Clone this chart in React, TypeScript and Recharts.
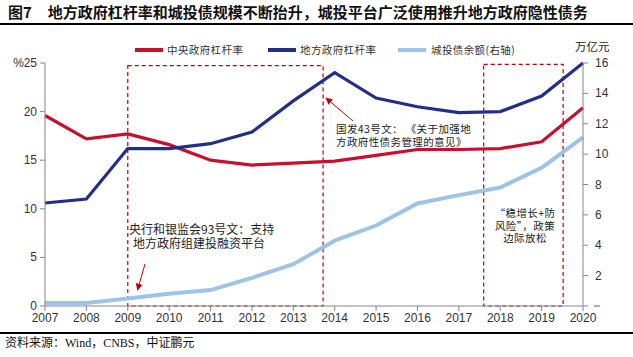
import React from "react";
import {
  ComposedChart,
  Line,
  XAxis,
  YAxis,
  ReferenceArea,
} from "recharts";

const years = [2007, 2008, 2009, 2010, 2011, 2012, 2013, 2014, 2015, 2016, 2017, 2018, 2019, 2020];
const centralLeverage = [19.6, 17.2, 17.7, 16.6, 15.0, 14.5, 14.7, 14.9, 15.5, 16.1, 16.1, 16.2, 16.9, 20.4];
const localLeverage = [10.6, 11.0, 16.2, 16.2, 16.7, 17.9, 21.1, 24.0, 21.4, 20.5, 19.9, 20.0, 21.6, 25.0];
const chengtouBonds = [0.2, 0.2, 0.5, 0.8, 1.05, 1.85, 2.75, 4.3, 5.3, 6.75, 7.3, 7.8, 9.1, 11.1];

const leftTicks = [0, 5, 10, 15, 20, 25];
const rightTicks = [0, 2, 4, 6, 8, 10, 12, 14, 16];

const seriesNames = ["中央政府杠杆率", "地方政府杠杆率", "城投债余额(右轴)"];
const colors = ["#C8102E", "#232F86", "#9DC3E6"];

const data = years.map((y, i) => ({
  year: y,
  central: centralLeverage[i],
  local: localLeverage[i],
  bonds: chengtouBonds[i],
}));

const tickFont = "'Liberation Sans', Arial, sans-serif";
const cjk = "'Noto Sans CJK SC', sans-serif";

const LeftTick = (props: any) => {
  const { x, y, payload } = props;
  if (payload.value === 25) {
    return (
      <g>
        <text x={x - 13} y={y} dy={4} textAnchor="end" fontSize={12} fill="#333" fontFamily={tickFont}>%</text>
        <text x={x} y={y} dy={4} textAnchor="end" fontSize={12} fill="#333" fontFamily={tickFont}>25</text>
      </g>
    );
  }
  return (
    <text x={x} y={y} dy={4} textAnchor="end" fontSize={12} fill="#333" fontFamily={tickFont}>
      {payload.value}
    </text>
  );
};

const RightTick = (props: any) => {
  const { x, y, payload } = props;
  if (payload.value === 0) {
    return <rect x={x - 1} y={y - 1} width={6} height={2} fill="#b0b0b0" />;
  }
  return (
    <text x={x} y={y} dy={4} textAnchor="start" fontSize={12} fill="#333" fontFamily={tickFont}>
      {payload.value}
    </text>
  );
};

const noteStyle: React.CSSProperties = {
  position: "absolute",
  fontFamily: cjk,
  color: "#222",
  whiteSpace: "nowrap",
};

export default function App() {
  return (
    <div style={{ position: "absolute", left: 0, top: 0, width: 633, height: 357, background: "#fff", overflow: "hidden" }}>
      {/* Title */}
      <div style={{ position: "absolute", left: 8, top: 3, fontFamily: cjk, fontWeight: 700, fontSize: 15, color: "#111", whiteSpace: "nowrap", lineHeight: "18px" }}>
        <span>图7</span>
        <span style={{ marginLeft: 16 }}>地方政府杠杆率和城投债规模不断抬升，城投平台广泛使用推升地方政府隐性债务</span>
      </div>
      <div style={{ position: "absolute", left: 0, top: 23, width: 633, height: 1.5, background: "#000" }} />

      <div style={{ position: "absolute", left: 0, top: 0 }}>
        <ComposedChart width={633} height={357} data={data} margin={{ top: 63, right: 10, bottom: 31, left: 10 }}>
          <XAxis
            dataKey="year"
            type="number"
            domain={[2007, 2020]}
            ticks={years}
            axisLine={{ stroke: "#868686" }}
            tickLine={{ stroke: "#868686" }}
            tickSize={5}
            tick={{ fontSize: 12, fill: "#333", fontFamily: tickFont }}
            height={20}
            interval={0}
          />
          <YAxis
            yAxisId="left"
            domain={[0, 25]}
            ticks={leftTicks}
            width={35}
            axisLine={{ stroke: "#868686" }}
            tickLine={{ stroke: "#868686" }}
            tickSize={5}
            tickMargin={3}
            tick={<LeftTick />}
            interval={0}
          />
          <YAxis
            yAxisId="right"
            orientation="right"
            domain={[0, 16]}
            ticks={rightTicks}
            width={40}
            axisLine={{ stroke: "#868686" }}
            tickLine={{ stroke: "#868686" }}
            tickSize={5}
            tickMargin={7}
            tick={<RightTick />}
            interval={0}
          />
          <ReferenceArea
            yAxisId="left"
            x1={2009}
            x2={2013.72}
            y1={0}
            y2={24.72}
            fill="none"
            fillOpacity={0}
            stroke="#C00000"
            strokeWidth={1.2}
            strokeDasharray="4 3"
            ifOverflow="visible"
          />
          <ReferenceArea
            yAxisId="left"
            x1={2017.6}
            x2={2019.52}
            y1={0}
            y2={24.85}
            fill="none"
            fillOpacity={0}
            stroke="#C00000"
            strokeWidth={1.2}
            strokeDasharray="4 3"
            ifOverflow="visible"
          />
          <Line yAxisId="right" dataKey="bonds" stroke={colors[2]} strokeWidth={4} dot={false} isAnimationActive={false} />
          <Line yAxisId="left" dataKey="central" stroke={colors[0]} strokeWidth={3.2} dot={false} isAnimationActive={false} />
          <Line yAxisId="left" dataKey="local" stroke={colors[1]} strokeWidth={3.2} dot={false} isAnimationActive={false} />
        </ComposedChart>
      </div>

      {/* Legend */}
      {[
        { x: 135, tx: 167 },
        { x: 268, tx: 300 },
        { x: 398, tx: 431 },
      ].map((p, i) => (
        <React.Fragment key={i}>
          <div style={{ position: "absolute", left: p.x, top: 48, width: 28, height: 4, background: colors[i] }} />
          <div style={{ position: "absolute", left: p.tx, top: 42, fontFamily: cjk, fontSize: 10.5, color: "#333", lineHeight: "16px", whiteSpace: "nowrap", letterSpacing: 0.4 }}>
            {seriesNames[i]}
          </div>
        </React.Fragment>
      ))}
      <div style={{ position: "absolute", left: 575, top: 38, fontFamily: cjk, fontSize: 11.5, color: "#222", lineHeight: "16px", whiteSpace: "nowrap" }}>
        万亿元
      </div>

      {/* Arrows */}
      <svg width={633} height={357} style={{ position: "absolute", left: 0, top: 0, pointerEvents: "none" }}>
        <defs>
          <marker id="ah" viewBox="0 0 10 10" refX="9" refY="5" markerWidth="7" markerHeight="7" orient="auto">
            <path d="M0,0 L10,5 L0,10 z" fill="#C00000" />
          </marker>
        </defs>
        <line x1={145} y1={264} x2={137.5} y2={290} stroke="#C00000" strokeWidth={1} markerEnd="url(#ah)" />
        <line x1={353} y1={121} x2={326} y2={98} stroke="#C00000" strokeWidth={1} markerEnd="url(#ah)" />
      </svg>

      {/* Annotation texts */}
      <div style={{ ...noteStyle, left: 129, top: 222, fontSize: 12, lineHeight: "14px" }}>
        央行和银监会93号文：支持<br />
        <span style={{ paddingLeft: 4 }}>地方政府组建投融资平台</span>
      </div>
      <div style={{ ...noteStyle, left: 336, top: 122, fontSize: 10.5, lineHeight: "13px", letterSpacing: 0.4 }}>
        国发43号文： 《关于加强地<br />
        方政府性债务管理的意见》
      </div>
      <div style={{ ...noteStyle, left: 493, top: 207, width: 64, textAlign: "center", fontSize: 10.5, lineHeight: "12.6px", letterSpacing: 0.4 }}>
        “稳增长+防<br />
        风险”，政策<br />
        边际放松
      </div>

      {/* Footer */}
      <div style={{ position: "absolute", left: 0, top: 332, width: 633, height: 1.5, background: "#000" }} />
      <div style={{ position: "absolute", left: 5, top: 335, fontFamily: "'Liberation Serif', 'Noto Sans CJK SC', serif", fontSize: 12, color: "#111", lineHeight: "16px", whiteSpace: "nowrap" }}>
        资料来源：Wind，CNBS，中证鹏元
      </div>
    </div>
  );
}
